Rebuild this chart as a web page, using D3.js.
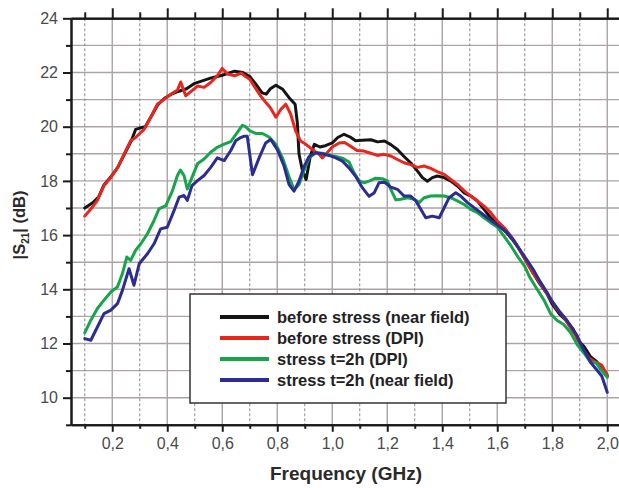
<!DOCTYPE html>
<html>
<head>
<meta charset="utf-8">
<script src="https://cdn.jsdelivr.net/npm/d3@7"></script>
<style>
    html, body { margin: 0; padding: 0; background: #fff; }
    svg { display: block; }
</style>
</head>
<body>
<div id="chart"></div>
<script>
// |S21| measured over frequency, [GHz, dB]
const beforeNear = [
    [0.10, 17.0], [0.13, 17.2], [0.15, 17.4], [0.17, 17.85], [0.195, 18.15], [0.22, 18.5],
    [0.245, 19.0], [0.27, 19.5], [0.285, 19.9], [0.30, 19.95], [0.32, 20.0], [0.34, 20.35],
    [0.365, 20.8], [0.39, 21.05], [0.415, 21.2], [0.44, 21.3], [0.47, 21.4], [0.50, 21.6],
    [0.53, 21.7], [0.56, 21.8], [0.60, 21.9], [0.645, 22.05], [0.675, 22.0], [0.70, 21.85],
    [0.72, 21.6], [0.745, 21.25], [0.76, 21.2], [0.775, 21.4], [0.795, 21.53], [0.82, 21.38],
    [0.843, 21.07], [0.865, 20.83], [0.873, 20.15], [0.879, 19.0], [0.891, 18.4], [0.905, 18.05],
    [0.92, 18.9], [0.935, 19.35], [0.955, 19.25], [0.975, 19.3], [1.0, 19.4], [1.02, 19.6],
    [1.043, 19.72], [1.065, 19.62], [1.085, 19.48], [1.11, 19.5], [1.14, 19.52], [1.165, 19.44],
    [1.19, 19.47], [1.213, 19.34], [1.237, 19.16], [1.26, 18.91], [1.285, 18.67], [1.31, 18.36],
    [1.328, 18.12], [1.346, 17.99], [1.364, 18.12], [1.382, 18.18], [1.407, 18.12], [1.43, 18.0],
    [1.455, 17.81], [1.48, 17.56], [1.504, 17.44], [1.528, 17.26], [1.552, 16.95], [1.576, 16.64],
    [1.60, 16.45], [1.633, 16.1], [1.658, 15.8], [1.682, 15.45], [1.706, 15.02], [1.73, 14.6],
    [1.755, 14.2], [1.78, 13.85], [1.80, 13.45], [1.825, 13.1], [1.85, 12.85], [1.875, 12.55],
    [1.895, 12.1], [1.915, 11.9], [1.94, 11.5], [1.96, 11.35], [1.98, 11.1], [2.0, 10.8]
];
const beforeDpi = [
    [0.10, 16.7], [0.125, 17.0], [0.146, 17.28], [0.17, 17.83], [0.195, 18.13], [0.22, 18.5],
    [0.243, 18.99], [0.267, 19.48], [0.285, 19.6], [0.30, 19.75], [0.316, 19.9], [0.34, 20.35],
    [0.364, 20.83], [0.388, 21.0], [0.413, 21.2], [0.437, 21.35], [0.449, 21.65], [0.467, 21.14],
    [0.49, 21.33], [0.51, 21.5], [0.534, 21.45], [0.558, 21.63], [0.582, 21.88], [0.60, 22.15],
    [0.62, 21.94], [0.645, 21.88], [0.67, 21.98], [0.685, 21.85], [0.70, 21.75], [0.722, 21.4],
    [0.742, 21.1], [0.758, 20.9], [0.775, 20.7], [0.795, 20.35], [0.813, 20.64], [0.831, 20.83],
    [0.849, 20.46], [0.867, 19.84], [0.885, 19.47], [0.904, 19.35], [0.928, 19.16], [0.952, 18.98],
    [0.964, 18.85], [0.982, 19.05], [1.0, 19.25], [1.025, 19.4], [1.045, 19.42], [1.067, 19.28],
    [1.09, 19.12], [1.116, 19.1], [1.14, 19.02], [1.164, 18.94], [1.188, 18.98], [1.213, 18.92],
    [1.237, 18.79], [1.261, 18.67], [1.285, 18.6], [1.31, 18.5], [1.334, 18.55], [1.358, 18.46],
    [1.382, 18.34], [1.407, 18.24], [1.43, 18.06], [1.455, 17.87], [1.48, 17.63], [1.504, 17.44],
    [1.528, 17.26], [1.552, 17.07], [1.576, 16.83], [1.60, 16.52], [1.625, 16.28], [1.649, 15.97],
    [1.673, 15.6], [1.698, 15.17], [1.722, 14.74], [1.746, 14.37], [1.77, 14.0], [1.79, 13.7],
    [1.815, 13.3], [1.84, 13.0], [1.865, 12.6], [1.885, 12.3], [1.91, 11.8], [1.935, 11.45],
    [1.96, 11.3], [1.98, 11.2], [2.0, 10.85]
];
const stressDpi = [
    [0.10, 12.39], [0.122, 12.86], [0.146, 13.29], [0.17, 13.6], [0.195, 13.9], [0.219, 14.09],
    [0.237, 14.58], [0.253, 15.19], [0.267, 15.07], [0.285, 15.44], [0.304, 15.68], [0.328, 16.05],
    [0.352, 16.54], [0.37, 16.97], [0.395, 17.09], [0.419, 17.64], [0.437, 18.2], [0.448, 18.4],
    [0.461, 18.2], [0.473, 17.7], [0.49, 18.13], [0.51, 18.63], [0.534, 18.81], [0.558, 19.06],
    [0.582, 19.24], [0.607, 19.36], [0.631, 19.45], [0.655, 19.79], [0.673, 20.05], [0.685, 20.0],
    [0.70, 19.85], [0.722, 19.75], [0.746, 19.75], [0.77, 19.62], [0.795, 19.35], [0.819, 18.85],
    [0.843, 18.15], [0.861, 17.68], [0.879, 17.86], [0.898, 18.4], [0.916, 18.85], [0.94, 19.04],
    [0.964, 19.02], [0.988, 18.96], [1.013, 18.9], [1.037, 18.84], [1.061, 18.7], [1.079, 18.3],
    [1.098, 18.0], [1.116, 17.93], [1.134, 17.99], [1.158, 18.1], [1.182, 18.08], [1.2, 18.0],
    [1.213, 17.69], [1.231, 17.3], [1.249, 17.32], [1.273, 17.38], [1.298, 17.32], [1.316, 17.2],
    [1.334, 17.38], [1.358, 17.44], [1.382, 17.45], [1.407, 17.44], [1.43, 17.38], [1.455, 17.26],
    [1.48, 17.13], [1.504, 16.95], [1.528, 16.83], [1.552, 16.64], [1.576, 16.46], [1.60, 16.3],
    [1.625, 15.95], [1.65, 15.6], [1.675, 15.2], [1.70, 14.85], [1.718, 14.45], [1.745, 14.0],
    [1.77, 13.6], [1.794, 13.1], [1.818, 12.85], [1.842, 12.7], [1.867, 12.4], [1.891, 11.95],
    [1.915, 11.65], [1.94, 11.3], [1.958, 11.3], [1.976, 11.05], [2.0, 10.75]
];
const stressNear = [
    [0.10, 12.18], [0.122, 12.12], [0.146, 12.61], [0.17, 13.1], [0.195, 13.23], [0.219, 13.47],
    [0.237, 13.96], [0.261, 14.76], [0.279, 14.15], [0.298, 14.94], [0.328, 15.31], [0.352, 15.68],
    [0.376, 16.23], [0.40, 16.29], [0.425, 16.91], [0.443, 17.4], [0.461, 17.46], [0.473, 17.28],
    [0.49, 17.83], [0.51, 18.01], [0.534, 18.2], [0.558, 18.5], [0.582, 18.85], [0.607, 18.75],
    [0.631, 19.12], [0.649, 19.48], [0.667, 19.6], [0.68, 19.65], [0.691, 19.65], [0.71, 18.23],
    [0.734, 18.85], [0.758, 19.4], [0.776, 19.53], [0.80, 19.16], [0.825, 18.54], [0.843, 17.86],
    [0.861, 17.62], [0.879, 17.99], [0.898, 18.54], [0.916, 18.9], [0.94, 19.04], [0.964, 19.0],
    [0.988, 18.94], [1.013, 18.85], [1.037, 18.73], [1.061, 18.48], [1.085, 18.17], [1.11, 17.74],
    [1.134, 17.43], [1.152, 17.55], [1.17, 17.93], [1.19, 17.95], [1.213, 17.77], [1.237, 17.69],
    [1.261, 17.44], [1.285, 17.44], [1.304, 17.26], [1.322, 16.95], [1.34, 16.64], [1.364, 16.7],
    [1.389, 16.64], [1.407, 17.01], [1.425, 17.38], [1.449, 17.56], [1.467, 17.44], [1.492, 17.2],
    [1.516, 17.01], [1.54, 16.83], [1.564, 16.64], [1.588, 16.46], [1.613, 16.28], [1.637, 16.09],
    [1.661, 15.79], [1.685, 15.42], [1.71, 15.05], [1.734, 14.68], [1.755, 14.3], [1.78, 13.9],
    [1.80, 13.55], [1.825, 13.2], [1.85, 12.9], [1.87, 12.6], [1.89, 12.3], [1.91, 11.85],
    [1.94, 11.3], [1.96, 11.05], [1.98, 10.8], [2.0, 10.2]
];

const seriesNames = ["before stress (near field)", "before stress (DPI)", "stress t=2h (DPI)", "stress t=2h (near field)"];
const seriesColors = ["#141414", "#e8261e", "#17a44a", "#2b2d94"];

const xMajorTicks = [0.2, 0.4, 0.6, 0.8, 1.0, 1.2, 1.4, 1.6, 1.8, 2.0];
const xMinorTicks = [0.1, 0.3, 0.5, 0.7, 0.9, 1.1, 1.3, 1.5, 1.7, 1.9, 2.1];
const yMajorTicks = [10, 12, 14, 16, 18, 20, 22, 24];
const yMinorTicks = [9, 11, 13, 15, 17, 19, 21, 23];

const width = 619, height = 488;
const plotLeft = 71, plotTop = 18.3, plotBottom = 424.8;

let svg = d3.select("#chart").append("svg")
    .attr("width", width)
    .attr("height", height)
    .attr("viewBox", "0 0 " + width + " " + height)
    .style("font-family", "'Liberation Sans', Arial, sans-serif");

// right edge of the plot lies outside the picture
let x = d3.scaleLinear().domain([0.05, 2.1]).range([plotLeft, plotLeft + 2.05 * 275]);
let y = d3.scaleLinear().domain([9, 24]).range([plotBottom, plotTop]);

//grid
let grid = svg.append("g");
grid.selectAll("line.hgrid")
    .data(yMajorTicks.concat(yMinorTicks))
    .join("line")
    .attr("class", "hgrid")
    .attr("x1", x(0.05)).attr("x2", x(2.1))
    .attr("y1", d => y(d)).attr("y2", d => y(d))
    .attr("stroke", "#aca3a3").attr("stroke-width", 1.4);
grid.selectAll("line.vgrid")
    .data(xMajorTicks)
    .join("line")
    .attr("class", "vgrid")
    .attr("x1", d => x(d)).attr("x2", d => x(d))
    .attr("y1", plotTop).attr("y2", plotBottom)
    .attr("stroke", "#aca3a3").attr("stroke-width", 1.4);
grid.selectAll("line.vdash")
    .data(xMinorTicks)
    .join("line")
    .attr("class", "vdash")
    .attr("x1", d => x(d)).attr("x2", d => x(d))
    .attr("y1", plotTop).attr("y2", plotBottom)
    .attr("stroke", "#8c8c8c").attr("stroke-width", 1)
    .attr("stroke-dasharray", "3,2");

//curves
let line = d3.line()
    .x(d => x(d[0]))
    .y(d => y(d[1]));

let allSeries = [beforeNear, beforeDpi, stressDpi, stressNear];
svg.append("g")
    .selectAll("path")
    .data(allSeries)
    .join("path")
    .attr("d", line)
    .attr("fill", "none")
    .attr("stroke", (d, i) => seriesColors[i])
    .attr("stroke-width", 3)
    .attr("stroke-linejoin", "round")
    .attr("stroke-linecap", "round");

//legend
let legend = svg.append("g");
legend.append("rect")
    .attr("x", 190).attr("y", 294)
    .attr("width", 316).attr("height", 109)
    .attr("fill", "#fff")
    .attr("stroke", "#333").attr("stroke-width", 1.5);
let rows = legend.selectAll("g.row")
    .data(seriesNames)
    .join("g")
    .attr("class", "row")
    .attr("transform", (d, i) => "translate(0," + (317 + i * 21) + ")");
rows.append("line")
    .attr("x1", 220).attr("x2", 269)
    .attr("stroke", (d, i) => seriesColors[i])
    .attr("stroke-width", 4);
rows.append("text")
    .attr("x", 277).attr("y", 6)
    .attr("font-size", "16.5px")
    .attr("font-weight", "bold")
    .attr("fill", "#222")
    .text(d => d);

//axes
const comma = d => d3.format(".1f")(d).replace(".", ",");

function styleAxis(g) {
    g.select(".domain").attr("stroke", "#1a1a1a").attr("stroke-width", 2);
    g.selectAll(".tick line").attr("stroke", "#1a1a1a").attr("stroke-width", 2);
    g.selectAll(".tick text").attr("fill", "#4a4a4a").attr("font-size", "16px");
}

svg.append("g")
    .attr("transform", "translate(0," + plotBottom + ")")
    .call(d3.axisBottom(x).tickValues(xMinorTicks).tickSize(4).tickSizeOuter(0).tickFormat(""))
    .call(styleAxis);
svg.append("g")
    .attr("transform", "translate(0," + plotBottom + ")")
    .call(d3.axisBottom(x).tickValues(xMajorTicks).tickSize(7).tickSizeOuter(0).tickPadding(6).tickFormat(comma))
    .call(styleAxis);
svg.append("g")
    .attr("transform", "translate(0," + plotTop + ")")
    .call(d3.axisTop(x).tickValues(xMinorTicks).tickSize(6).tickSizeOuter(0).tickFormat(""))
    .call(styleAxis);
svg.append("g")
    .attr("transform", "translate(0," + plotTop + ")")
    .call(d3.axisTop(x).tickValues(xMajorTicks).tickSize(10).tickSizeOuter(0).tickFormat(""))
    .call(styleAxis);
svg.append("g")
    .attr("transform", "translate(" + plotLeft + ",0)")
    .call(d3.axisLeft(y).tickValues(yMinorTicks).tickSize(5).tickSizeOuter(0).tickFormat(""))
    .call(styleAxis);
svg.append("g")
    .attr("transform", "translate(" + plotLeft + ",0)")
    .call(d3.axisLeft(y).tickValues(yMajorTicks).tickSize(8).tickSizeOuter(0).tickPadding(5))
    .call(styleAxis);

//axis titles
svg.append("text")
    .attr("x", 346).attr("y", 480)
    .attr("text-anchor", "middle")
    .attr("font-size", "19px")
    .attr("font-weight", "bold")
    .attr("fill", "#2a2a2a")
    .text("Frequency (GHz)");

let yTitle = svg.append("text")
    .attr("transform", "translate(25,225) rotate(-90)")
    .attr("text-anchor", "middle")
    .attr("font-size", "16.5px")
    .attr("font-weight", "bold")
    .attr("fill", "#2a2a2a");
yTitle.append("tspan").text("|S");
yTitle.append("tspan").attr("font-size", "10px").attr("dy", 4).text("21");
yTitle.append("tspan").attr("dy", -4).text("| (dB)");
</script>
</body>
</html>
